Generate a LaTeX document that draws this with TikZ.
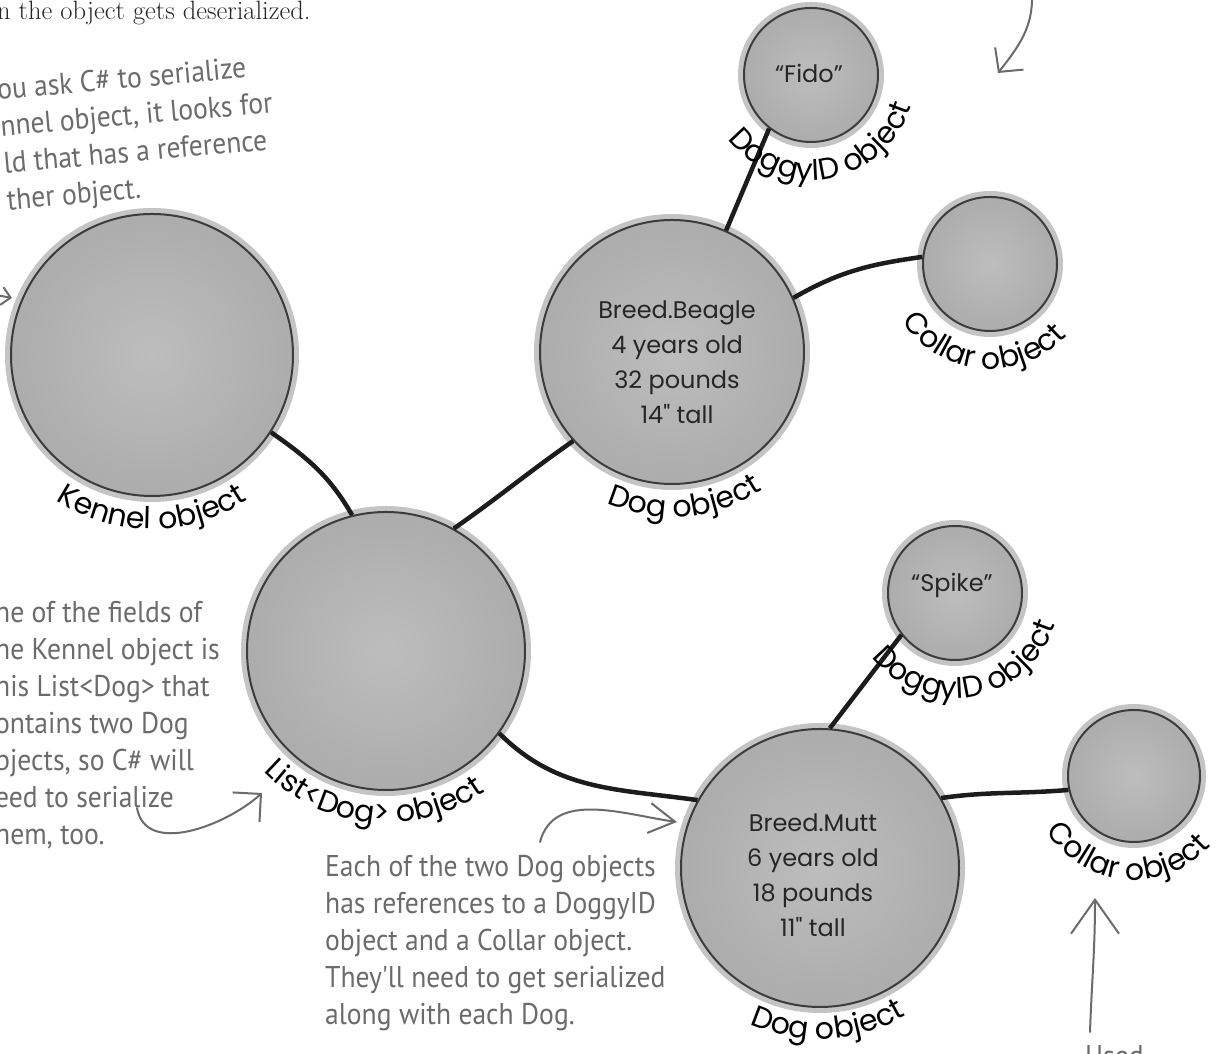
\documentclass[tikz,border=0pt]{standalone}
\usepackage{fontspec}
\newfontfamily\lblfamily{Poppins}
\newfontfamily\notefamily[FakeStretch=0.92]{PT Sans}
\usetikzlibrary{arrows.meta,decorations.text}
\definecolor{orbA}{HTML}{BDBDBD}
\definecolor{orbB}{HTML}{A9A9A9}
\definecolor{orbC}{HTML}{8A8A8A}
\definecolor{orbD}{HTML}{4A4A4A}
\definecolor{rimgray}{HTML}{3C3C3C}
\definecolor{halogray}{HTML}{C4C4C4}
\definecolor{notegray}{HTML}{6B6B6B}
\definecolor{linkblack}{HTML}{1C1C1C}
\pgfdeclareradialshading{orbshade}{\pgfpointorigin}{color(0bp)=(orbA); color(30bp)=(orbB); color(44bp)=(orbC); color(50bp)=(orbD)}
\newcommand{\lblfont}{\lblfamily\fontsize{30pt}{34pt}\selectfont}
\newcommand{\orbfont}{\lblfamily\fontsize{24pt}{35pt}\selectfont}
\newcommand{\notefont}{\notefamily\fontsize{30pt}{37pt}\selectfont}

\begin{document}
\begin{tikzpicture}[x=1pt, y=1pt]
  \tikzset{
    orb/.style={circle, inner sep=0pt, minimum size=#1, shading=orbshade, draw=rimgray, line width=2pt, preaction={draw=halogray, line width=12pt}},
    link/.style={draw=linkblack, line width=4.5pt},
    note/.style={draw=notegray, line width=2pt, line cap=round},
    notetext/.style={text=notegray, font=\notefont, align=left, inner sep=0pt, anchor=north west},
    orbtext/.style={font=\orbfont, align=center, inner sep=0pt, text=black!85},
    orblabel/.style={decorate, decoration={text along path, text={|\lblfont|#1}, text align=center}}
  }
  \useasboundingbox (0,0) rectangle (1219,1054);
  \clip (0,0) rectangle (1219,1054);
  \fill[white] (0,0) rectangle (1219,1054);

  \node[orb=282pt] (kennel) at (152,699) {};
  \node[orb=278pt] (dogs) at (386,403) {};
  \node[orb=264pt] (beagle) at (672,702) {};
  \node[orb=278pt] (mutt) at (820,186) {};
  \node[orb=134pt] (fido) at (811,979) {};
  \node[orb=134pt] (collarA) at (990,790) {};
  \node[orb=134pt] (spike) at (955,461) {};
  \node[orb=132pt] (collarB) at (1134,278) {};

  \draw[link] (kennel.-33) to[out=-35, in=120] (dogs.104);
  \draw[link] (dogs.61) to[out=35, in=215] (beagle.222);
  \draw[link] (dogs.-36) to[out=-45, in=172] (mutt.151);
  \draw[link] (beagle.66) -- (fido.232);
  \draw[link] (beagle.24) to[out=30, in=188] (collarA.174);
  \draw[link] (mutt.86) -- (spike.218);
  \draw[link] (mutt.30) to[out=8, in=185] (collarB.192);

  \path[orblabel=Kennel object] ([shift={(170:174)}]kennel.center) arc[start angle=170, end angle=370, radius=174];
  \path[orblabel=List<Dog> object] ([shift={(165:172)}]dogs.center) arc[start angle=165, end angle=365, radius=172];
  \path[orblabel=Dog object] ([shift={(175:165)}]beagle.center) arc[start angle=175, end angle=375, radius=165];
  \path[orblabel=Dog object] ([shift={(173:171)}]mutt.center) arc[start angle=173, end angle=373, radius=171];
  \path[orblabel=DoggyID object] ([shift={(180:105)}]fido.center) arc[start angle=180, end angle=380, radius=105];
  \path[orblabel=Collar object] ([shift={(165:105)}]collarA.center) arc[start angle=165, end angle=365, radius=105];
  \path[orblabel=DoggyID object] ([shift={(180:105)}]spike.center) arc[start angle=180, end angle=380, radius=105];
  \path[orblabel=Collar object] ([shift={(165:104)}]collarB.center) arc[start angle=165, end angle=365, radius=104];

  \node[orbtext] (beagleinfo) at (677,692) {Breed.Beagle\\4 years old\\32 pounds\\14" tall};
  \node[orbtext] (muttinfo) at (813,179) {Breed.Mutt\\6 years old\\18 pounds\\11" tall};
  \node[orbtext] (fidoname) at (809,981) {“Fido”};
  \node[orbtext] (spikename) at (952,469) {“Spike”};

  \node[anchor=base west, inner sep=0pt, text=black!85, font=\fontsize{26.5pt}{30pt}\selectfont] (deser) at (-3,1034) {n the object gets deserialized.};
  \node[notetext, rotate=5] (asknote) at (-4,976) {ou ask C\# to serialize\\nnel object, it looks for\\ld that has a reference\\ther object.};
  \node[notetext] (fieldnote) at (-5,453) {ne of the fields of\\he Kennel object is\\his List<Dog> that\\ontains two Dog\\bjects, so C\# will\\eed to serialize\\hem, too.};
  \node[notetext] (eachnote) at (325,199) {Each of the two Dog objects\\has references to a DoggyID\\object and a Collar object.\\They'll need to get serialized\\along with each Dog.};
  \node[notetext, anchor=base west] (usednote) at (1085,-13) {Used};

  \coordinate (topstart) at (1032,1060);
  \coordinate (toptip) at (998,981);
  \coordinate (kenneltail) at (-30,764);
  \coordinate (kenneltip) at (12,756);
  \coordinate (fieldtail) at (137,246);
  \coordinate (fieldtip) at (262,261);
  \coordinate (eachtail) at (540,212);
  \coordinate (eachtip) at (677,232);
  \coordinate (usedtail) at (1090,22);
  \coordinate (usedtip) at (1095,156);
  \draw[note, -{Straight Barb[length=17pt,width=36pt]}] (topstart) to[out=-88, in=52] (toptip);
  \draw[note, -{Straight Barb[length=9pt,width=18pt]}] (kenneltail) -- (kenneltip);
  \draw[note, -{Straight Barb[length=20pt,width=40pt]}] (fieldtail) to[out=-80, in=222] (fieldtip);
  \draw[note, -{Straight Barb[length=26pt,width=30pt]}] (eachtail) to[out=75, in=172] (eachtip);
  \draw[note, -{Straight Barb[length=34pt,width=48pt]}] (usedtail) to[out=88, in=-90] (usedtip);
\end{tikzpicture}
\end{document}
